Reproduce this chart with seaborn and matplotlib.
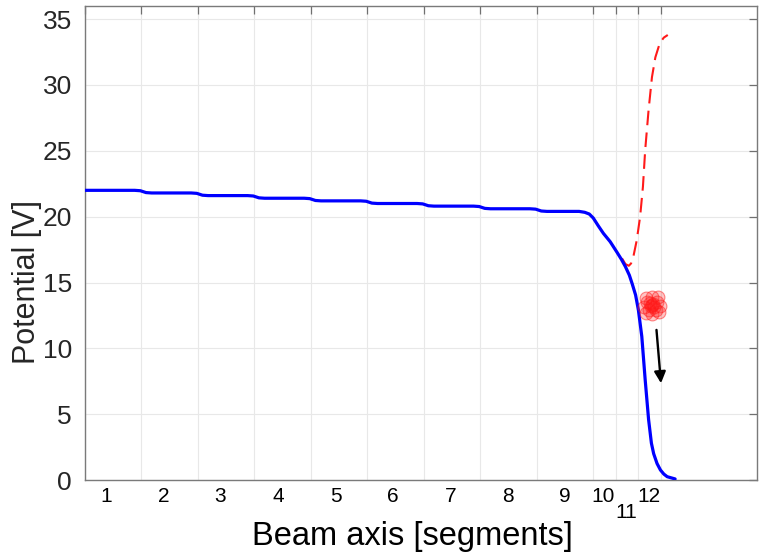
import matplotlib
matplotlib.use("Agg")
import matplotlib.pyplot as plt
import matplotlib.transforms as mtransforms
import seaborn as sns

# ---- data ----
segment_labels = ["1", "2", "3", "4", "5", "6", "7", "8", "9", "10", "11", "12"]
segment_label_pos = [0.37, 1.39, 2.40, 3.42, 4.44, 5.45, 6.47, 7.49, 8.50, 9.18, 9.58, 9.98]
segment_bounds = [0, 1, 2, 3, 4, 5, 6, 7, 8, 9, 9.4, 9.8, 10.2]
y_ticks = [0, 5, 10, 15, 20, 25, 30, 35]

blue_x = [0, 0.88, 0.98, 1.08, 1.18,
          1.88, 1.98, 2.08, 2.18,
          2.88, 2.98, 3.08, 3.18,
          3.88, 3.98, 4.08, 4.18,
          4.88, 4.98, 5.08, 5.18,
          5.88, 5.98, 6.08, 6.18,
          6.88, 6.98, 7.08, 7.18,
          7.88, 7.98, 8.08, 8.18,
          8.75, 8.85, 8.93, 9.00, 9.09, 9.18, 9.30, 9.42, 9.50, 9.57, 9.64,
          9.69, 9.75, 9.80, 9.86, 9.92, 9.98, 10.03, 10.07, 10.13, 10.19,
          10.25, 10.31, 10.45]
blue_y = [22.00, 22.00, 21.97, 21.83, 21.80,
          21.80, 21.77, 21.63, 21.60,
          21.60, 21.57, 21.43, 21.40,
          21.40, 21.37, 21.23, 21.20,
          21.20, 21.17, 21.03, 21.00,
          21.00, 20.97, 20.83, 20.80,
          20.80, 20.77, 20.63, 20.60,
          20.60, 20.57, 20.43, 20.40,
          20.40, 20.33, 20.20, 19.90, 19.30, 18.73, 18.10, 17.30, 16.75, 16.20, 15.55,
          14.90, 14.05, 12.90, 10.90, 7.60, 4.60, 2.80, 2.00, 1.25, 0.76,
          0.45, 0.25, 0.08]

red_x = [9.51, 9.57, 9.63, 9.67, 9.71, 9.77, 9.83, 9.88, 9.92, 9.98, 10.04, 10.10, 10.18, 10.25, 10.32]
red_y = [16.83, 16.40, 16.27, 16.45, 16.95, 18.20, 19.99, 22.27, 25.06, 28.10, 30.60, 32.10, 33.20, 33.60, 33.80]

cluster_x = [10.04, 9.95, 10.13, 9.99, 10.11, 9.90, 10.18, 10.04, 10.04, 9.93, 10.15, 9.93,
             10.16, 10.08, 10.00, 10.06, 10.02]
cluster_y = [13.30, 13.53, 13.53, 12.92, 12.92, 13.15, 13.22, 13.91, 12.62, 13.83, 13.91, 12.69,
             12.77, 13.15, 13.45, 13.38, 13.20]

arrow_start = (10.12, 11.4)
arrow_end = (10.20, 7.35)

# ---- style ----
sns.set_style("white")
plt.rcParams["font.family"] = ["Liberation Sans", "DejaVu Sans"]

fig = plt.figure(figsize=(7.59, 5.54), dpi=100)
ax = fig.add_axes([85 / 759, 1 - 480 / 554, 672 / 759, 474 / 554])

sns.lineplot(x=red_x, y=red_y, ax=ax, sort=False, estimator=None,
             color="#ff1a1a", linewidth=1.5, linestyle=(0, (7, 3.5)), zorder=3)
sns.lineplot(x=blue_x, y=blue_y, ax=ax, sort=False, estimator=None,
             color="#0000ff", linewidth=2.3, zorder=4)
sns.scatterplot(x=cluster_x, y=cluster_y, ax=ax, s=85, marker="o",
                facecolor=(1, 0.1, 0.1, 0.25), edgecolor=(1, 0.1, 0.1, 0.5),
                linewidth=0.8, zorder=5)
ax.annotate("", xy=arrow_end, xytext=arrow_start,
            arrowprops=dict(arrowstyle="-|>", color="black", lw=1.7,
                            mutation_scale=17, shrinkA=0, shrinkB=0), zorder=6)

ax.set_xlim(0, 11.9)
ax.set_ylim(0, 36)
ax.set_xticks(segment_bounds)
ax.set_xticklabels([])
ax.set_yticks(y_ticks)
ax.set_yticklabels([str(v) for v in y_ticks], fontsize=19, color="#262626")
ax.tick_params(axis="both", direction="in", top=True, right=True,
               length=5.5, width=0.9, color="#707070")
ax.tick_params(axis="y", pad=9.5)
ax.grid(True, color="#e8e8e8", linewidth=0.8)
ax.set_axisbelow(True)
for sp in ax.spines.values():
    sp.set_visible(True)
    sp.set_color("#7a7a7a")
    sp.set_linewidth(1.0)

# segment labels
trans = mtransforms.blended_transform_factory(ax.transData, ax.transAxes)
for pos, lab in zip(segment_label_pos, segment_labels):
    yy = -0.068 if lab == "11" else -0.034
    ax.text(pos, yy, lab, transform=trans, ha="center", va="center",
            fontsize=15, color="black")

ax.set_xlabel("Beam axis [segments]", fontsize=23.5, color="black")
ax.xaxis.set_label_coords(0.487, -0.086)
ax.set_ylabel("Potential [V]", fontsize=22, color="#262626")
ax.yaxis.set_label_coords(-0.064, 0.418)

fig.savefig("out.png", dpi=100)
